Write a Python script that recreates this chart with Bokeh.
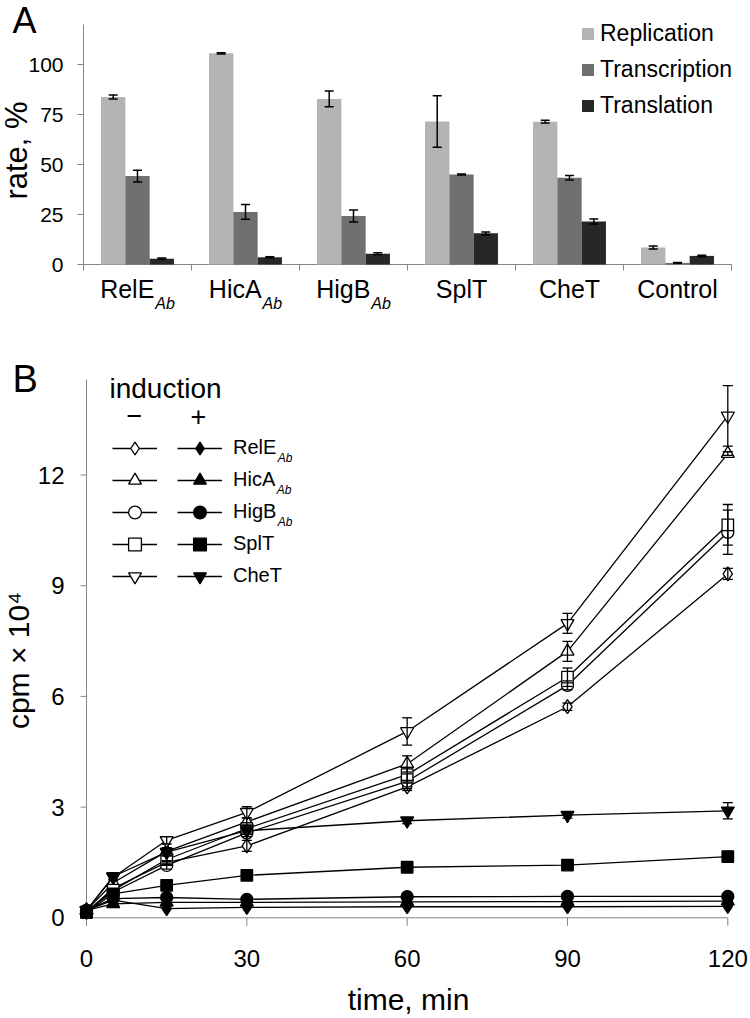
import numpy as np
from math import pi
from bokeh.plotting import figure
from bokeh.models import (Range1d, Legend, LegendItem, Whisker, TeeHead, ColumnDataSource)
from bokeh.core.properties import value
from bokeh.layouts import column
from bokeh.embed import file_html
from bokeh.resources import INLINE

FONT = "Liberation Sans"

# ---------------- Panel A data ----------------
categories = ["RelE", "HicA", "HigB", "SplT", "CheT", "Control"]
cat_subscripts = ["Ab", "Ab", "Ab", "", "", ""]
processes = ["Replication", "Transcription", "Translation"]
replication = [83.7, 105.6, 82.8, 71.5, 71.4, 8.5]
transcription = [44.2, 26.3, 24.2, 45.0, 43.4, 0.8]
translation = [2.9, 3.6, 5.4, 15.6, 21.5, 4.3]
err_replication = [1.0, 0.3, 3.9, 12.9, 0.7, 0.8]
err_transcription = [2.9, 3.7, 3.0, 0.3, 1.1, 0.2]
err_translation = [0.3, 0.3, 0.5, 0.7, 1.3, 0.3]
rate_ticks = [0, 25, 50, 75, 100]
rate_max = 120

# ---------------- Panel B data ----------------
times = [0, 5, 15, 30, 60, 90, 120]
strains = ["RelE", "HicA", "HigB", "SplT", "CheT"]
strain_subscripts = ["Ab", "Ab", "Ab", "", ""]
relE_minus = [0.15, 0.80, 1.50, 1.95, 3.55, 5.72, 9.32]
hicA_minus = [0.20, 0.95, 1.80, 2.60, 4.17, 7.22, 12.58]
higB_minus = [0.20, 0.70, 1.42, 2.30, 3.70, 6.30, 10.45]
splT_minus = [0.15, 0.75, 1.58, 2.42, 3.88, 6.52, 10.65]
cheT_minus = [0.20, 1.10, 2.10, 2.86, 5.05, 7.98, 13.60]
relE_plus = [0.20, 0.48, 0.25, 0.28, 0.30, 0.30, 0.31]
hicA_plus = [0.20, 0.38, 0.42, 0.42, 0.43, 0.44, 0.45]
higB_plus = [0.20, 0.52, 0.55, 0.50, 0.57, 0.58, 0.58]
splT_plus = [0.15, 0.65, 0.88, 1.15, 1.37, 1.43, 1.66]
cheT_plus = [0.20, 1.12, 1.78, 2.36, 2.63, 2.78, 2.90]
err_relE_minus = [0, 0, 0.05, 0.15, 0.10, 0.10, 0.15]
err_hicA_minus = [0, 0, 0.10, 0.10, 0.22, 0.27, 0.05]
err_higB_minus = [0, 0, 0.10, 0.10, 0.20, 0.12, 0.60]
err_splT_minus = [0, 0, 0.10, 0.10, 0.20, 0.25, 0.55]
err_cheT_minus = [0, 0.05, 0.10, 0.15, 0.37, 0.27, 0.82]
err_relE_plus = [0, 0, 0, 0, 0, 0, 0]
err_hicA_plus = [0, 0, 0, 0, 0, 0, 0]
err_higB_plus = [0, 0, 0, 0, 0, 0, 0]
err_splT_plus = [0, 0, 0, 0.05, 0, 0, 0]
err_cheT_plus = [0, 0.10, 0.10, 0.10, 0.08, 0.08, 0.22]
time_ticks = [0, 30, 60, 90, 120]
cpm_ticks = [0, 3, 6, 9, 12]
cpm_max = 14.59

AXIS_COLOR = "#858585"
MID = 0.35   # distance (em) from the 'middle' anchor to the text baseline

# approximate Liberation Sans advance widths (em) used only for text placement
W = {'R': .722, 'e': .556, 'l': .222, 'E': .667, 'H': .722, 'i': .222, 'c': .5,
     'A': .667, 'g': .556, 'B': .667, 'S': .667, 'p': .556, 'T': .611, 'h': .556,
     'C': .722, 'o': .556, 'n': .556, 't': .278, 'r': .333, 'b': .556}


def tw(s, fs):
    return sum(W.get(ch, .556) for ch in s) * fs


def txt(p, x, y, s, fs, align="left", angle=0, style="normal"):
    p.text(x=[x], y=[y], text=[s], text_font=value(FONT), text_font_size=value(f"{fs}px"),
           text_align=align, text_baseline="middle", angle=angle,
           text_font_style=style, text_color="black")


# ================= Panel A =================
A_W, A_H = 750, 340
AXS = 108.0   # px per category
AYS = 2.0     # px per rate unit


def ax(px):
    return (px - 83) / AXS


def ay(py):
    return (264 - py) / AYS


pA = figure(width=A_W, height=A_H, x_range=Range1d(ax(0), ax(A_W)), y_range=Range1d(ay(A_H), ay(0)),
            output_backend="svg", toolbar_location=None, x_axis_location=None, y_axis_location=None,
            min_border=0)
pA.outline_line_color = None
pA.grid.visible = False

ncat = len(categories)
pA.segment(x0=[0, 0], y0=[0, 0], x1=[ncat, 0], y1=[0, rate_max], line_color=AXIS_COLOR, line_width=1)
cat_edges = np.arange(ncat + 1)
pA.segment(x0=cat_edges, y0=0, x1=cat_edges, y1=-6 / AYS, line_color=AXIS_COLOR, line_width=1)
rt = np.array(rate_ticks, dtype=float)
pA.segment(x0=0, y0=rt, x1=-6 / AXS, y1=rt, line_color=AXIS_COLOR, line_width=1)
pA.text(x=ax(63), y=rt, text=[str(t) for t in rate_ticks], text_font=value(FONT),
        text_font_size=value("21px"), text_align="right", text_baseline="middle", text_color="black")

bar_w = 0.225
offsets = [-0.225, 0.0, 0.225]
bar_colors = ["#b3b3b3", "#6f6f6f", "#272727"]
values = [replication, transcription, translation]
errors = [err_replication, err_transcription, err_translation]
idx = np.arange(ncat)
bar_renderers = []
for name, vals, err, off, col in zip(processes, values, errors, offsets, bar_colors):
    v = np.array(vals, dtype=float)
    e = np.array(err, dtype=float)
    src = ColumnDataSource(dict(x=idx + 0.5 + off, top=v, upper=v + e, lower=v - e))
    r = pA.vbar(x="x", top="top", bottom=0, width=bar_w, source=src,
                fill_color=col, line_color=None)
    bar_renderers.append(r)
    pA.add_layout(Whisker(source=src, base="x", upper="upper", lower="lower",
                          line_color="black", line_width=1.5, level="annotation",
                          upper_head=TeeHead(size=9, line_color="black", line_width=1.5),
                          lower_head=TeeHead(size=9, line_color="black", line_width=1.5)))

legA = Legend(items=[LegendItem(label=n, renderers=[r]) for n, r in zip(processes, bar_renderers)],
              location=(580, A_H - 118.5), orientation="vertical", glyph_width=15, glyph_height=15,
              label_text_font=FONT, label_text_font_size="23px", label_text_color="black",
              label_standoff=5, spacing=9, padding=0, margin=0, label_height=26,
              border_line_color=None, background_fill_alpha=0)
pA.add_layout(legA)

for i, (c, sub) in enumerate(zip(categories, cat_subscripts)):
    if sub:
        wm = tw(c, 25)
        total = wm + 1 + tw(sub, 16)
        txt(pA, i + 0.5 - total / 2 / AXS, ay(297 - MID * 25), c, 25)
        txt(pA, i + 0.5 + (-total / 2 + wm + 1) / AXS, ay(309 - MID * 16), sub, 16, style="italic")
    else:
        txt(pA, i + 0.5, ay(297 - MID * 25), c, 25, align="center")

txt(pA, ax(12), ay(33 - MID * 36), "A", 36)
txt(pA, ax(27 - MID * 31), ay(150), "rate, %", 31, align="center", angle=pi / 2)

# ================= Panel B =================
B_W, B_H = 750, 678
B_TOP = A_H
XS = 641.3 / 120.0   # px per minute
YS = 36.9            # px per cpm unit


def bx(px):
    return (px - 86) / XS


def by(py):
    return (917.3 - py) / YS


pB = figure(width=B_W, height=B_H, x_range=Range1d(bx(0), bx(B_W)),
            y_range=Range1d(by(B_TOP + B_H), by(B_TOP)),
            output_backend="svg", toolbar_location=None, x_axis_location=None, y_axis_location=None,
            min_border=0)
pB.outline_line_color = None
pB.grid.visible = False

pB.segment(x0=[0, 0], y0=[0, 0], x1=[time_ticks[-1], 0], y1=[0, cpm_max],
           line_color=AXIS_COLOR, line_width=1)
tt = np.array(time_ticks, dtype=float)
pB.segment(x0=tt, y0=0, x1=tt, y1=-8 / YS, line_color=AXIS_COLOR, line_width=1)
ct = np.array(cpm_ticks, dtype=float)
pB.segment(x0=0, y0=ct, x1=-6 / XS, y1=ct, line_color=AXIS_COLOR, line_width=1)
pB.text(x=tt, y=by(966.5 - MID * 24), text=[str(t) for t in time_ticks], text_font=value(FONT),
        text_font_size=value("24px"), text_align="center", text_baseline="middle",
        text_color="black")
pB.text(x=bx(64), y=ct, text=[str(t) for t in cpm_ticks], text_font=value(FONT),
        text_font_size=value("24px"), text_align="right", text_baseline="middle",
        text_color="black")

minus_series = [relE_minus, hicA_minus, higB_minus, splT_minus, cheT_minus]
plus_series = [relE_plus, hicA_plus, higB_plus, splT_plus, cheT_plus]
minus_err = [err_relE_minus, err_hicA_minus, err_higB_minus, err_splT_minus, err_cheT_minus]
plus_err = [err_relE_plus, err_hicA_plus, err_higB_plus, err_splT_plus, err_cheT_plus]
markers = ["diamond", "triangle", "circle", "square", "inverted_triangle"]
msizes = [14, 13, 12, 11.5, 13]
all_series = minus_series + plus_series
all_err = minus_err + plus_err

lines = [pB.line(times, ys, line_color="black", line_width=1.3) for ys in all_series]

for ys, err in zip(all_series, all_err):
    t = np.array(times, dtype=float)
    v = np.array(ys, dtype=float)
    e = np.array(err, dtype=float)
    m = e > 0
    if m.any():
        wsrc = ColumnDataSource(dict(x=t[m], upper=v[m] + e[m], lower=v[m] - e[m]))
        pB.add_layout(Whisker(source=wsrc, base="x", upper="upper", lower="lower",
                              line_color="black", line_width=1.3, level="glyph",
                              upper_head=TeeHead(size=10, line_color="black", line_width=1.3),
                              lower_head=TeeHead(size=10, line_color="black", line_width=1.3)))

scatters = []
for k, ys in enumerate(all_series):
    i = k % 5
    filled = k >= 5
    scatters.append(pB.scatter(times, ys, marker=markers[i], size=msizes[i], line_color="black",
                               line_width=1.3, fill_color="black" if filled else "white"))

row0 = 447.7
pitch = 32
leg_vy = (B_TOP + B_H) - (row0 - pitch / 2 + 5 * pitch)
pB.add_layout(Legend(items=[LegendItem(label=" ", renderers=[lines[i], scatters[i]]) for i in range(5)],
                     location=(112, leg_vy), orientation="vertical",
                     glyph_width=45, glyph_height=pitch, spacing=0, padding=0, margin=0,
                     label_text_font=FONT, label_text_font_size="20px", label_height=20,
                     label_standoff=0, border_line_color=None, background_fill_alpha=0))
pB.add_layout(Legend(items=[LegendItem(label=strains[i], renderers=[lines[5 + i], scatters[5 + i]])
                            for i in range(5)],
                     location=(177, leg_vy), orientation="vertical",
                     glyph_width=45, glyph_height=pitch, spacing=0, padding=0, margin=0,
                     label_text_font=FONT, label_text_font_size="20px", label_text_color="black",
                     label_height=20, label_standoff=11,
                     border_line_color=None, background_fill_alpha=0))

for i, (s, sub) in enumerate(zip(strains, strain_subscripts)):
    if sub:
        rc = row0 + pitch * i
        txt(pB, bx(233 + tw(s, 20) + 1), by(rc + 13.5 - MID * 12), sub, 12, style="italic")

txt(pB, bx(109), by(398 - MID * 28), "induction", 28)
txt(pB, bx(134), by(415), "\u2212", 27, align="center")
txt(pB, bx(198), by(416), "+", 27, align="center")
txt(pB, bx(12), by(392 - MID * 38), "B", 38)
txt(pB, bx(408), by(1009 - MID * 30), "time, min", 30, align="center")
txt(pB, bx(28 - MID * 30), by(660), "cpm \u00d7 10\u2074", 30, align="center", angle=pi / 2)

layout = column(pA, pB)
open("out.html", "w").write(file_html(layout, INLINE))
